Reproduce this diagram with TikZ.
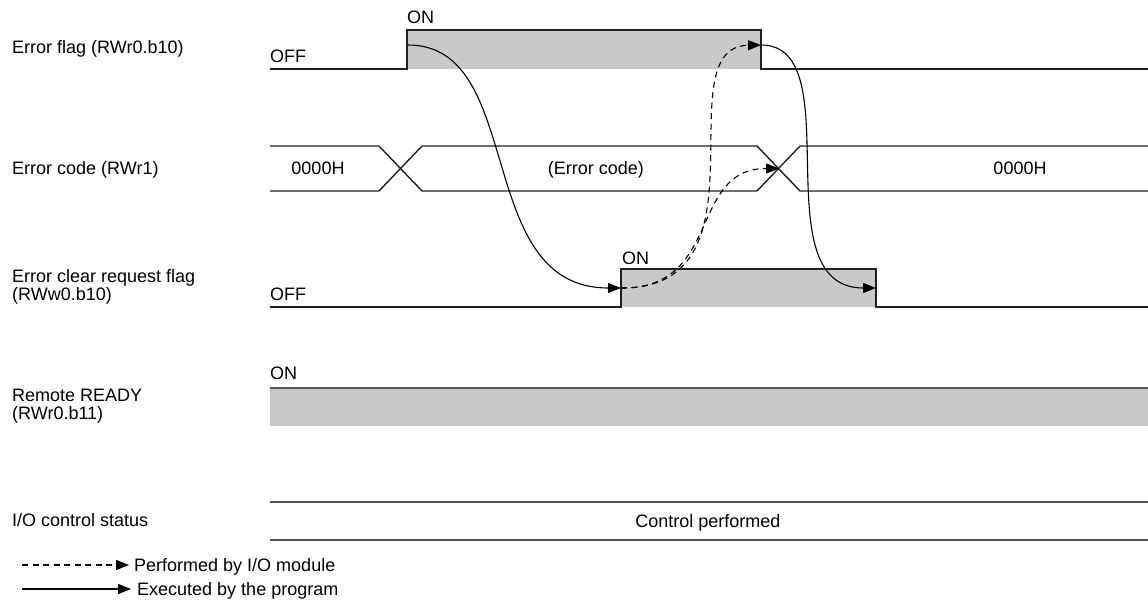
\documentclass[tikz,border=0pt]{standalone}
\usepackage{fontspec}
\setmainfont{Liberation Sans}
\usetikzlibrary{arrows.meta}

\definecolor{sigfill}{RGB}{200,201,202}
\definecolor{sigline}{RGB}{35,31,32}
\definecolor{busline}{RGB}{85,85,85}

\begin{document}
\begin{tikzpicture}[x=1pt,y=-1pt,>={Triangle[length=13pt,width=10pt]},
  font=\fontsize{18}{21}\selectfont,
  sig/.style={draw=sigline,line width=1.4pt},
  lbl/.style={anchor=base west,inner sep=0pt},
  val/.style={anchor=base,inner sep=0pt},
  flow/.style={->,line width=1.1pt},
  iomod/.style={flow,dash pattern=on 6pt off 4.5pt}]
\useasboundingbox (0,0) rectangle (1148,601);
% ---- row labels ----
\node[lbl] (l-ef) at (12,54) {Error flag (RWr0.b10)};
\node[lbl] (l-ec) at (12,175) {Error code (RWr1)};
\node[lbl] (l-cr1) at (12,283) {Error clear request flag};
\node[lbl] (l-cr2) at (12,301) {(RWw0.b10)};
\node[lbl] (l-rr1) at (12,401) {Remote READY};
\node[lbl] (l-rr2) at (12,419) {(RWr0.b11)};
\node[lbl] (l-io) at (12,526) {I/O control status};
% ---- error flag ----
\fill[sigfill] (407,30) rectangle (761,69);
\draw[sig] (270,69) -- (407,69) -- (407,30) -- (761,30) -- (761,69) -- (1148,69);
\node[lbl] (ef-off) at (270,63) {OFF};
\node[lbl] (ef-on) at (407,24) {ON};
\coordinate (ef-rise) at (408,45);
\coordinate (ef-fall) at (761,45);
% ---- error code ----
\draw[sig] (270,146) -- (379,146) -- (422,191) -- (757,191) -- (800,146) -- (1148,146);
\draw[sig] (270,191) -- (379,191) -- (422,146) -- (757,146) -- (800,191) -- (1148,191);
\node[val] (ec-old) at (318,175) {0000H};
\node[val] (ec-err) at (596,175) {(Error code)};
\node[val] (ec-new) at (1020,175) {0000H};
\coordinate (ec-cross) at (779,168.5);
% ---- error clear request flag ----
\fill[sigfill] (621,269) rectangle (876,307);
\draw[sig] (270,307) -- (621,307) -- (621,269) -- (876,269) -- (876,307) -- (1148,307);
\node[lbl] (cr-off) at (270,301) {OFF};
\node[lbl] (cr-on) at (622,265) {ON};
\coordinate (cr-rise) at (621,288);
\coordinate (cr-fall) at (876,288);
% ---- remote READY ----
\fill[sigfill] (270,388) rectangle (1148,426);
\draw[sig,draw=busline] (270,388) -- (1148,388);
\node[lbl] (rr-on) at (270,379) {ON};
% ---- I/O control ----
\draw[sig,draw=busline,line width=1.8pt] (270,502) -- (1148,502);
\draw[sig,draw=busline,line width=1.8pt] (270,540) -- (1148,540);
\node[val] (io-txt) at (708,527) {Control performed};
% ---- handshake ----
\draw[flow] (ef-rise) .. controls (527,45) and (472,288) .. (cr-rise);
\draw[flow] (ef-fall) .. controls (852,45) and (760,288) .. (cr-fall);
\draw[iomod] (cr-rise) .. controls (723,289) and (688,168.5) .. (ec-cross);
\draw[iomod] (cr-rise) .. controls (775,289) and (663,47) .. (ef-fall);
% ---- legend ----
\coordinate (lg-dash) at (22,565);
\coordinate (lg-solid) at (22,589);
\node[lbl] (lg-perf) at (134,571) {Performed by I/O module};
\node[lbl] (lg-exec) at (137,595) {Executed by the program};
\draw[iomod] (lg-dash) -- (lg-dash -| lg-perf.west) [shorten >=5pt];
\draw[flow] (lg-solid) -- (lg-solid -| lg-exec.west) [shorten >=6pt];
\end{tikzpicture}
\end{document}
